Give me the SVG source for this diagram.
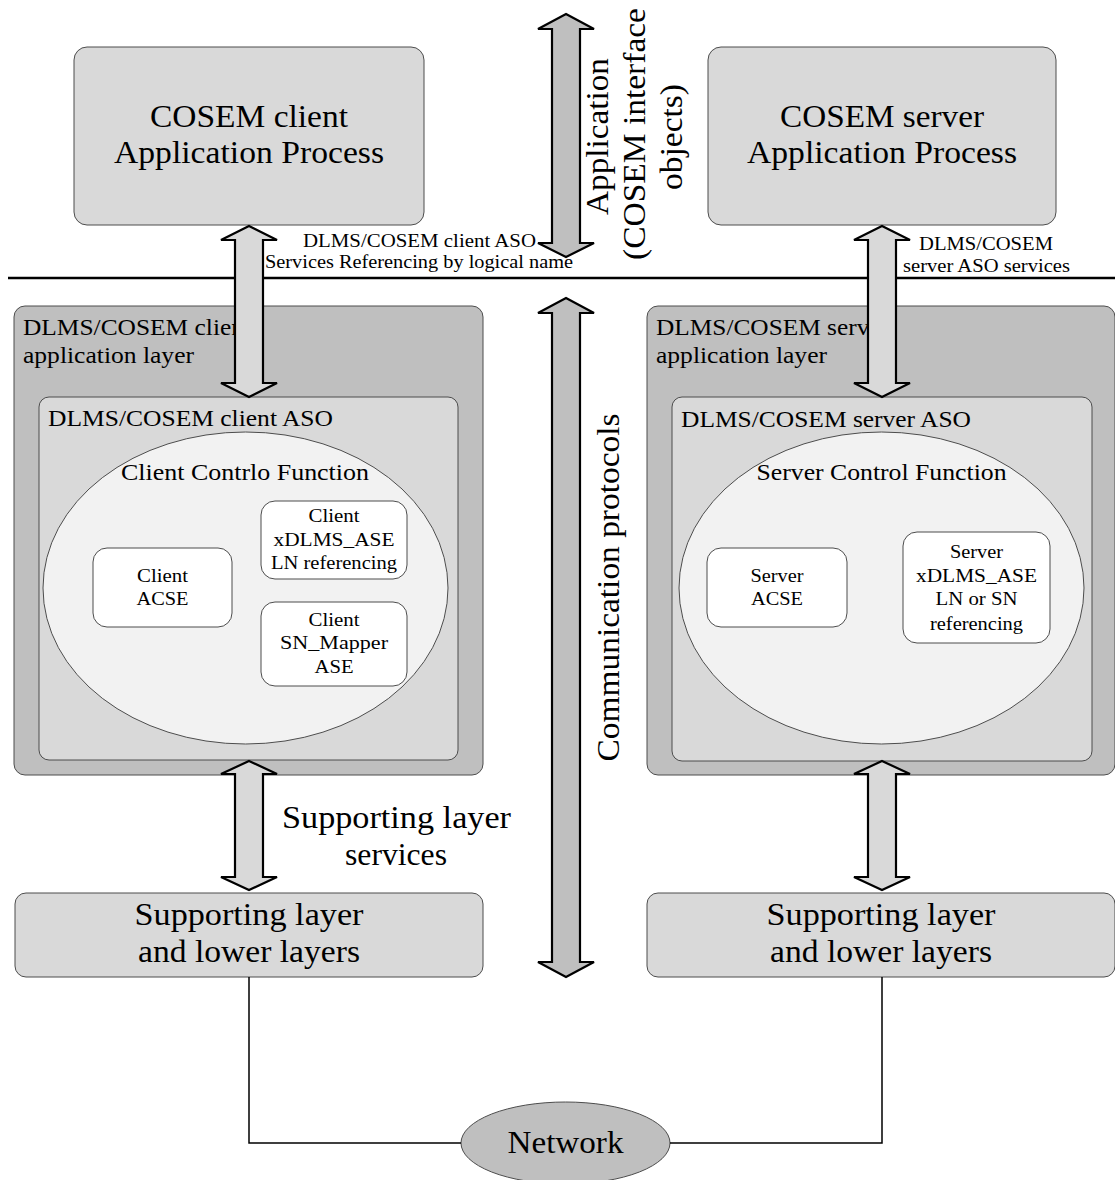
<svg xmlns="http://www.w3.org/2000/svg" width="1115" height="1180" viewBox="0 0 1115 1180">
  <style>
    text { font-family: "Liberation Serif", "Times New Roman", serif; fill: #000; }
    .lg { font-size: 31.5px; }
    .md { font-size: 23.5px; }
    .sm { font-size: 19.5px; }
    .mid { text-anchor: middle; }
    .box { stroke: #4d4d4d; stroke-width: 1; }
    .l1 { fill: #d9d9d9; }
    .l2 { fill: #bfbfbf; }
    .l3 { fill: #f2f2f2; }
    .wh { fill: #ffffff; }
    .barrow { stroke: #000; stroke-width: 2.2; stroke-linejoin: miter; }
    .wire { fill: none; stroke: #000; stroke-width: 1.5; }
  </style>

  <!-- boundary between application and communication parts -->
  <line x1="8" y1="278" x2="1115" y2="278" stroke="#000" stroke-width="2.5"/>

  <!-- client application process -->
  <g id="client-ap">
    <rect class="box l1" x="74" y="47" width="350" height="178" rx="13"/>
    <text class="lg mid" x="249" y="127" textLength="198" lengthAdjust="spacingAndGlyphs">COSEM client</text>
    <text class="lg mid" x="249" y="163" textLength="270" lengthAdjust="spacingAndGlyphs">Application Process</text>
  </g>

  <!-- server application process -->
  <g id="server-ap">
    <rect class="box l1" x="708" y="47" width="348" height="178" rx="13"/>
    <text class="lg mid" x="882" y="127" textLength="204" lengthAdjust="spacingAndGlyphs">COSEM server</text>
    <text class="lg mid" x="882" y="163" textLength="270" lengthAdjust="spacingAndGlyphs">Application Process</text>
  </g>

  <!-- client application layer -->
  <g id="client-al">
    <rect class="box l2" x="14" y="306" width="469" height="469" rx="11"/>
    <text class="md" x="23" y="335" textLength="228" lengthAdjust="spacingAndGlyphs">DLMS/COSEM client</text>
    <text class="md" x="23" y="363" textLength="171" lengthAdjust="spacingAndGlyphs">application layer</text>
  </g>
  <g id="client-aso">
    <rect class="box l1" x="39" y="397" width="419" height="363" rx="10"/>
    <text class="md" x="48" y="426" textLength="285" lengthAdjust="spacingAndGlyphs">DLMS/COSEM client ASO</text>
  </g>
  <g id="client-cf">
    <ellipse class="box l3" cx="245.5" cy="588" rx="202.5" ry="156"/>
    <text class="md mid" x="245" y="480" textLength="248" lengthAdjust="spacingAndGlyphs">Client Contrlo Function</text>
  </g>
  <g id="client-acse">
    <rect class="box wh" x="93" y="548" width="139" height="79" rx="14"/>
    <text class="sm mid" x="162.5" y="582" textLength="51" lengthAdjust="spacingAndGlyphs">Client</text>
    <text class="sm mid" x="162.5" y="605" textLength="52" lengthAdjust="spacingAndGlyphs">ACSE</text>
  </g>
  <g id="client-xdlms">
    <rect class="box wh" x="261" y="501" width="146" height="78" rx="14"/>
    <text class="sm mid" x="334" y="522" textLength="51" lengthAdjust="spacingAndGlyphs">Client</text>
    <text class="sm mid" x="334" y="546" textLength="121" lengthAdjust="spacingAndGlyphs">xDLMS_ASE</text>
    <text class="sm mid" x="334" y="569" textLength="126" lengthAdjust="spacingAndGlyphs">LN referencing</text>
  </g>
  <g id="client-snmapper">
    <rect class="box wh" x="261" y="602" width="146" height="84" rx="14"/>
    <text class="sm mid" x="334" y="626" textLength="51" lengthAdjust="spacingAndGlyphs">Client</text>
    <text class="sm mid" x="334" y="649" textLength="108" lengthAdjust="spacingAndGlyphs">SN_Mapper</text>
    <text class="sm mid" x="334" y="673" textLength="39" lengthAdjust="spacingAndGlyphs">ASE</text>
  </g>

  <!-- server application layer -->
  <g id="server-al">
    <rect class="box l2" x="647" y="306" width="468" height="469" rx="11"/>
    <text class="md" x="656" y="335" textLength="233" lengthAdjust="spacingAndGlyphs">DLMS/COSEM server</text>
    <text class="md" x="656" y="363" textLength="171" lengthAdjust="spacingAndGlyphs">application layer</text>
  </g>
  <g id="server-aso">
    <rect class="box l1" x="672" y="397" width="420" height="364" rx="10"/>
    <text class="md" x="681" y="427" textLength="290" lengthAdjust="spacingAndGlyphs">DLMS/COSEM server ASO</text>
  </g>
  <g id="server-cf">
    <ellipse class="box l3" cx="881.5" cy="588" rx="202.5" ry="156"/>
    <text class="md mid" x="881.5" y="480" textLength="250" lengthAdjust="spacingAndGlyphs">Server Control Function</text>
  </g>
  <g id="server-acse">
    <rect class="box wh" x="707" y="548" width="140" height="79" rx="14"/>
    <text class="sm mid" x="777" y="582" textLength="53" lengthAdjust="spacingAndGlyphs">Server</text>
    <text class="sm mid" x="777" y="605" textLength="52" lengthAdjust="spacingAndGlyphs">ACSE</text>
  </g>
  <g id="server-xdlms">
    <rect class="box wh" x="903" y="532" width="147" height="111" rx="14"/>
    <text class="sm mid" x="976.5" y="558" textLength="53" lengthAdjust="spacingAndGlyphs">Server</text>
    <text class="sm mid" x="976.5" y="582" textLength="121" lengthAdjust="spacingAndGlyphs">xDLMS_ASE</text>
    <text class="sm mid" x="976.5" y="605" textLength="82" lengthAdjust="spacingAndGlyphs">LN or SN</text>
    <text class="sm mid" x="976.5" y="630" textLength="93" lengthAdjust="spacingAndGlyphs">referencing</text>
  </g>

  <!-- supporting layers -->
  <g id="client-support">
    <rect class="box l1" x="15" y="893" width="468" height="84" rx="11"/>
    <text class="lg mid" x="249" y="925" textLength="229" lengthAdjust="spacingAndGlyphs">Supporting layer</text>
    <text class="lg mid" x="249" y="962" textLength="222" lengthAdjust="spacingAndGlyphs">and lower layers</text>
  </g>
  <g id="server-support">
    <rect class="box l1" x="647" y="893" width="468" height="84" rx="11"/>
    <text class="lg mid" x="881" y="925" textLength="229" lengthAdjust="spacingAndGlyphs">Supporting layer</text>
    <text class="lg mid" x="881" y="962" textLength="222" lengthAdjust="spacingAndGlyphs">and lower layers</text>
  </g>

  <!-- network -->
  <g id="network">
    <ellipse class="box l2" cx="565.5" cy="1143" rx="104.5" ry="41"/>
    <text class="lg mid" x="565.5" y="1153" textLength="116" lengthAdjust="spacingAndGlyphs">Network</text>
  </g>

  <!-- block arrows and wiring -->
  <g id="connectors">
    <!-- client AP <-> client application layer -->
    <path class="barrow l1" d="M249,226 L277,240 L263,240 L263,383 L277,383 L249,397 L221,383 L235,383 L235,240 L221,240 Z"/>
    <!-- server AP <-> server application layer -->
    <path class="barrow l1" d="M882,226 L910,240 L896,240 L896,383 L910,383 L882,397 L854,383 L868,383 L868,240 L854,240 Z"/>
    <!-- client layer <-> client supporting layer -->
    <path class="barrow l1" d="M249,761 L277,774 L263,774 L263,877 L277,877 L249,890 L221,877 L235,877 L235,774 L221,774 Z"/>
    <!-- server layer <-> server supporting layer -->
    <path class="barrow l1" d="M882,761 L910,774 L896,774 L896,877 L910,877 L882,890 L854,877 L868,877 L868,774 L854,774 Z"/>
    <!-- application span -->
    <path class="barrow l2" d="M566,14 L594,29 L580,29 L580,243 L594,243 L566,257 L538,243 L552,243 L552,29 L538,29 Z"/>
    <!-- communication protocols span -->
    <path class="barrow l2" d="M566,298 L594,313 L580,313 L580,962 L594,962 L566,977 L538,962 L552,962 L552,313 L538,313 Z"/>
    <!-- supporting layers to network -->
    <path class="wire" d="M249,977 L249,1143 L461,1143"/>
    <path class="wire" d="M882,977 L882,1143 L670,1143"/>
  </g>

  <!-- connector labels -->
  <g id="labels">
    <text class="sm mid" x="419.5" y="247" textLength="233" lengthAdjust="spacingAndGlyphs">DLMS/COSEM client ASO</text>
    <text class="sm mid" x="419" y="268" textLength="308" lengthAdjust="spacingAndGlyphs">Services Referencing by logical name</text>
    <text class="sm mid" x="986" y="250" textLength="134" lengthAdjust="spacingAndGlyphs">DLMS/COSEM</text>
    <text class="sm mid" x="986.5" y="272" textLength="167" lengthAdjust="spacingAndGlyphs">server ASO services</text>
    <text class="lg mid" x="396.5" y="828" textLength="229" lengthAdjust="spacingAndGlyphs">Supporting layer</text>
    <text class="lg mid" x="396" y="865" textLength="102" lengthAdjust="spacingAndGlyphs">services</text>
    <text class="lg mid" transform="translate(608,136.5) rotate(-90)" textLength="157" lengthAdjust="spacingAndGlyphs">Application</text>
    <text class="lg mid" transform="translate(645,134) rotate(-90)" textLength="252" lengthAdjust="spacingAndGlyphs">(COSEM interface</text>
    <text class="lg mid" transform="translate(682,137) rotate(-90)" textLength="106" lengthAdjust="spacingAndGlyphs">objects)</text>
    <text class="lg mid" transform="translate(619,587.5) rotate(-90)" textLength="348" lengthAdjust="spacingAndGlyphs">Communication protocols</text>
  </g>
</svg>
